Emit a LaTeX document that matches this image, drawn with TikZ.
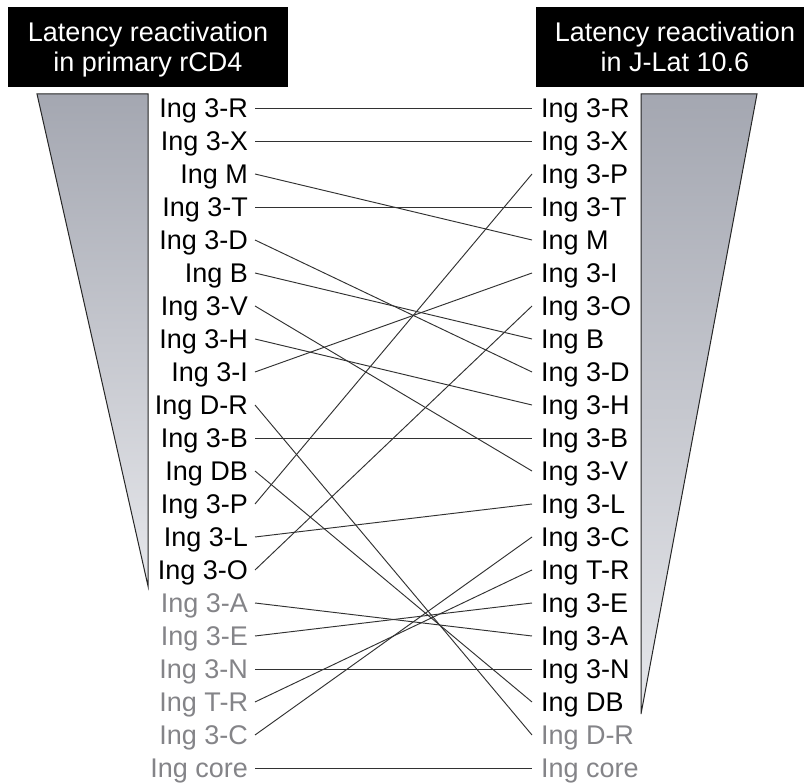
\documentclass[tikz,border=0pt]{standalone}
\usepackage{fontspec}
\setmainfont{Liberation Sans}
\definecolor{labelgray}{RGB}{132,132,136}
\definecolor{linkgray}{RGB}{50,50,50}
\definecolor{funneltop}{RGB}{164,167,177}
\definecolor{funnelbottom}{RGB}{230,231,235}
\begin{document}
\begin{tikzpicture}[x=1pt,y=-1pt,
  lbl/.style={font=\fontsize{27}{30}\selectfont, inner sep=0pt, text height=19.3pt, text depth=0pt},
  lft/.style={lbl, anchor=east, outer xsep=7pt},
  rgt/.style={lbl, anchor=west, outer xsep=9pt},
  faint/.style={text=labelgray},
  link/.style={draw=linkgray, line width=0.95pt},
  funnel/.style={draw=black!85, line width=1pt, top color=funneltop, bottom color=funnelbottom},
  headbox/.style={fill=black},
  head/.style={text=white, font=\fontsize{27}{30}\selectfont, align=center, inner sep=0pt}]
\useasboundingbox (0,0) rectangle (804,783);
\clip (0,0) rectangle (804,783);

% header boxes
\fill[headbox] (8,7) rectangle (288,87);
\fill[headbox] (536,7) rectangle (814,87);
\node[head] (hl) at (148,50) {Latency reactivation\\in primary rCD4};
\node[head] (hr) at (675,47) {Latency reactivation\\in J-Lat 10.6};

% funnels
\shade[funnel] (37,94) -- (148,94) -- (148,586) -- cycle;
\shade[funnel] (641,94) -- (757,94) -- (641,714) -- cycle;

% left ranking
\foreach \k/\t [count=\i] in {3R/3-R,3X/3-X,M/M,3T/3-T,3D/3-D,B/B,3V/3-V,3H/3-H,3I/3-I,DR/D-R,3B/3-B,DB/DB,3P/3-P,3L/3-L,3O/3-O}
  \node[lft] (l\k) at (255,75+33*\i) {Ing \t};
\foreach \k/\t [count=\i from 16] in {3A/3-A,3E/3-E,3N/3-N,TR/T-R,3C/3-C,core/core}
  \node[lft,faint] (l\k) at (255,75+33*\i) {Ing \t};

% right ranking
\foreach \k/\t [count=\i] in {3R/3-R,3X/3-X,3P/3-P,3T/3-T,M/M,3I/3-I,3O/3-O,B/B,3D/3-D,3H/3-H,3B/3-B,3V/3-V,3L/3-L,3C/3-C,TR/T-R,3E/3-E,3A/3-A,3N/3-N,DB/DB}
  \node[rgt] (r\k) at (532,75+33*\i) {Ing \t};
\foreach \k/\t [count=\i from 20] in {DR/D-R,core/core}
  \node[rgt,faint] (r\k) at (532,75+33*\i) {Ing \t};

% links between the two rankings
\foreach \k in {3R,3X,M,3T,3D,B,3V,3H,3I,DR,3B,DB,3P,3L,3O,3A,3E,3N,TR,3C,core}
  \draw[link] (l\k.east) -- (r\k.west);
\end{tikzpicture}
\end{document}
